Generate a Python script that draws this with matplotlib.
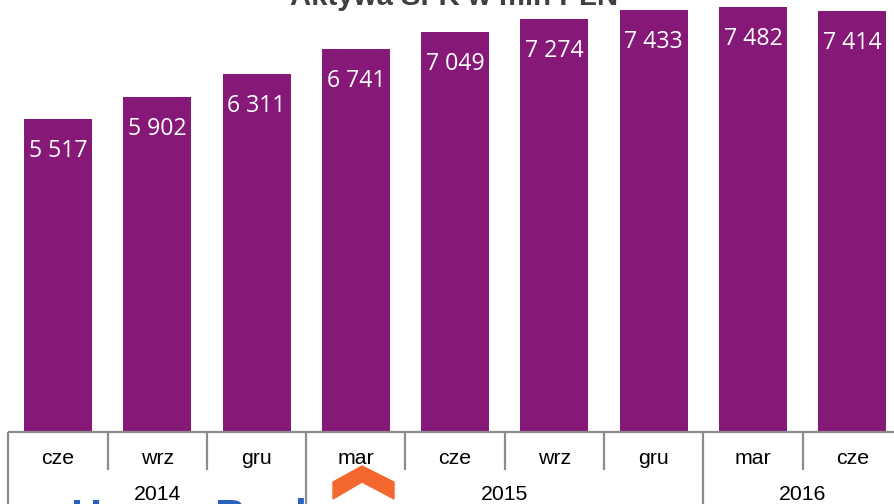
import matplotlib
matplotlib.use('Agg')
import matplotlib.pyplot as plt
from matplotlib.patches import Polygon

months = ['cze', 'wrz', 'gru', 'mar', 'cze', 'wrz', 'gru', 'mar', 'cze']
values = [5517, 5902, 6311, 6741, 7049, 7274, 7433, 7482, 7414]
value_labels = ['5 517', '5 902', '6 311', '6 741', '7 049', '7 274', '7 433', '7 482', '7 414']
years = ['2014', '2015', '2016']
year_spans = [(0, 3), (3, 7), (7, 9)]
title = 'Aktywa SFK w mln PLN'

W, H = 894, 504
BASE_Y = 432
LEFT = 8.3
SLOT = 99.3
PX_PER_UNIT = 0.0568


def px_x(x):
    return (x - LEFT) / SLOT


def px_y(y):
    return (BASE_Y - y) / PX_PER_UNIT


fig = plt.figure(figsize=(W / 100, H / 100), dpi=100)
ax = fig.add_axes([0, 0, 1, 1])
ax.set_xlim(px_x(0), px_x(W))
ax.set_ylim(px_y(H), px_y(0))
ax.axis('off')

positions = [i + 0.5 for i in range(len(values))]
ax.bar(positions, values, width=0.685, color='#861878', edgecolor='none', zorder=2)

for p, v, lab in zip(positions, values, value_labels):
    ax.text(p, v - 565, lab, ha='center', va='center', color='white',
            fontsize=16.7, family='Open Sans', zorder=3)

ax.text(px_x(454.5), px_y(-3), title, ha='center', va='center', color='#404040',
        fontsize=21.2, fontweight='bold', family='Liberation Sans', zorder=3)

# logo scraps at the bottom
ax.add_patch(Polygon([(px_x(333), px_y(482)), (px_x(362), px_y(466)), (px_x(394), px_y(482)),
                      (px_x(394), px_y(499)), (px_x(362), px_y(482)), (px_x(333), px_y(499))],
                     closed=True, color='#f4682f', zorder=1))
ax.text(px_x(70), px_y(498), 'Home', ha='left', va='top', color='#2a62c0', fontsize=31,
        fontweight='bold', family='Liberation Sans', zorder=1)
ax.text(px_x(214), px_y(498), 'Bank', ha='left', va='top', color='#2a62c0', fontsize=31,
        fontweight='bold', family='Liberation Sans', zorder=1)

# category table under the bars
line = dict(color='#8c8c8c', linewidth=1.6, zorder=4, solid_capstyle='butt')
ax.plot([0, len(values) + 1], [0, 0], **line)
for i in range(len(values) + 1):
    tall = i in (0, 3, 7, 9)
    ax.plot([i, i], [0, px_y(504 if tall else 470)], **line)

for p, m in zip(positions, months):
    ax.text(p, px_y(458), m, ha='center', va='center', fontsize=15.3,
            family='Liberation Sans', color='black', zorder=5)
for y, (a, b) in zip(years, year_spans):
    ax.text((a + b) / 2, px_y(495), y, ha='center', va='center', fontsize=15.3,
            family='Liberation Sans', color='black', zorder=5)

fig.savefig('out.png', dpi=100)
